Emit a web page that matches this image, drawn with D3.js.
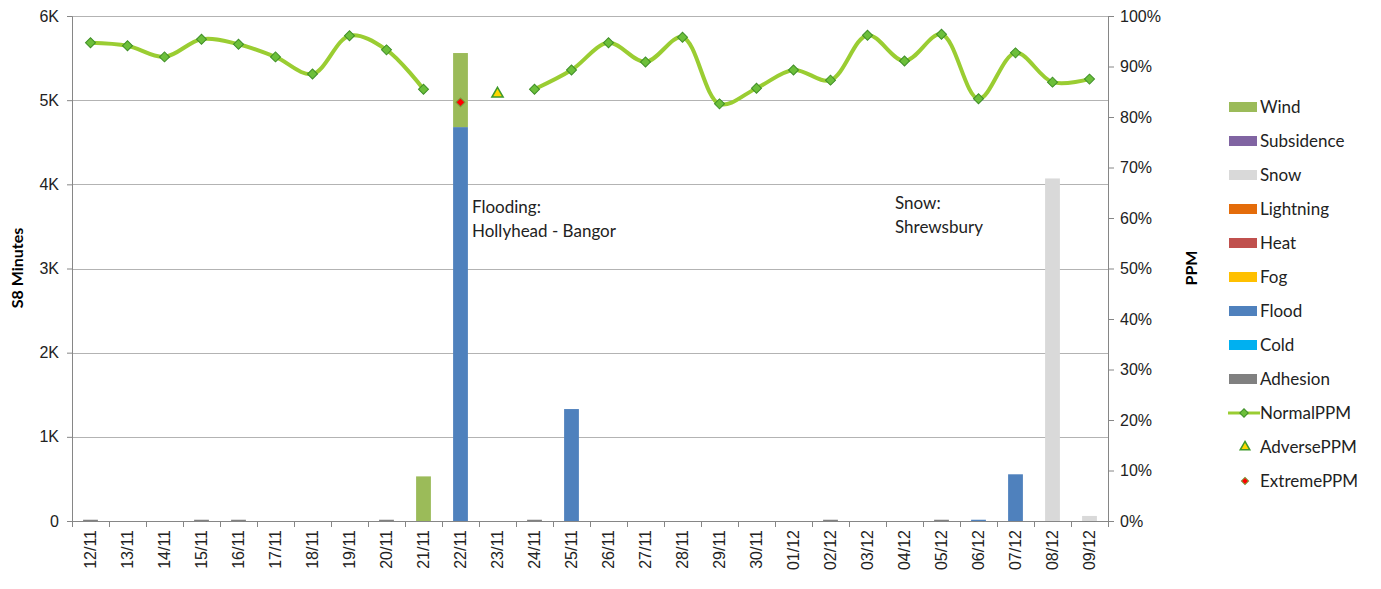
<!DOCTYPE html>
<html>
<head>
<meta charset="utf-8">
<script src="https://cdn.jsdelivr.net/npm/d3@7"></script>
<style>
  body { margin: 0; background: #fff; }
  svg { font-family: Lato, "Open Sans", sans-serif; }
  .grid line { stroke: #b3b3b3; }
  .axis path, .axis line { stroke: #868686; }
  .axis text { fill: #222; font-size: 16px; }
</style>
</head>
<body>
<svg width="1381" height="589"></svg>
<script>
const dates = ['12/11','13/11','14/11','15/11','16/11','17/11','18/11','19/11','20/11','21/11','22/11','23/11','24/11','25/11',
  '26/11','27/11','28/11','29/11','30/11','01/12','02/12','03/12','04/12','05/12','06/12','07/12','08/12','09/12'];

// S8 minutes by cause
const adhesion   = [15,0,0,15,15,0,0,0,15,0,0,0,15,0, 0,0,0,0,0,0,15,0,0,15,0,0,0,0];
const cold       = [0,0,0,0,0,0,0,0,0,0,0,0,0,0, 0,0,0,0,0,0,0,0,0,0,0,0,0,0];
const flood      = [0,0,0,0,0,0,0,0,0,0,4680,0,0,1330, 0,0,0,0,0,0,0,0,0,0,15,555,0,0];
const fog        = [0,0,0,0,0,0,0,0,0,0,0,0,0,0, 0,0,0,0,0,0,0,0,0,0,0,0,0,0];
const heat       = [0,0,0,0,0,0,0,0,0,0,0,0,0,0, 0,0,0,0,0,0,0,0,0,0,0,0,0,0];
const lightning  = [0,0,0,0,0,0,0,0,0,0,0,0,0,0, 0,0,0,0,0,0,0,0,0,0,0,0,0,0];
const snow       = [0,0,0,0,0,0,0,0,0,0,0,0,0,0, 0,0,0,0,0,0,0,0,0,0,0,0,4070,60];
const subsidence = [0,0,0,0,0,0,0,0,0,0,0,0,0,0, 0,0,0,0,0,0,0,0,0,0,0,0,0,0];
const wind       = [0,0,0,0,0,0,0,0,0,530,880,0,0,0, 0,0,0,0,0,0,0,0,0,0,0,0,0,0];

// PPM (%)
const normalPPM  = [94.7,94.1,91.9,95.4,94.4,91.9,88.5,96.1,93.3,85.5,null,null,85.5,89.3,
  94.7,90.9,95.8,82.6,85.7,89.3,87.3,96.2,91.1,96.4,83.6,92.7,86.9,87.5];
const adversePPM  = [null,null,null,null,null,null,null,null,null,null,null,84.6,null,null,
  null,null,null,null,null,null,null,null,null,null,null,null,null,null];
const extremePPM  = [null,null,null,null,null,null,null,null,null,null,82.9,null,null,null,
  null,null,null,null,null,null,null,null,null,null,null,null,null,null];

const causes = ['Adhesion','Cold','Flood','Fog','Heat','Lightning','Snow','Subsidence','Wind'];
const causeValues = {Adhesion: adhesion, Cold: cold, Flood: flood, Fog: fog, Heat: heat,
  Lightning: lightning, Snow: snow, Subsidence: subsidence, Wind: wind};
const causeColors = {Adhesion:'#808080', Cold:'#00b0f0', Flood:'#4f81bd', Fog:'#ffc000', Heat:'#c0504d',
  Lightning:'#e46c0a', Snow:'#d9d9d9', Subsidence:'#8064a2', Wind:'#9bbb59'};

const leftTicks = [0,1000,2000,3000,4000,5000,6000];
const rightTicks = [0,10,20,30,40,50,60,70,80,90,100];

const margin = {left: 72, right: 1108, top: 16, bottom: 521};
const svg = d3.select('svg');

let x = d3.scaleBand().domain(dates).range([margin.left, margin.right]).paddingInner(0.6).paddingOuter(0.3);
let y = d3.scaleLinear().domain([0, 6000]).range([margin.bottom, margin.top]);
let y2 = d3.scaleLinear().domain([0, 100]).range([margin.bottom, margin.top]);
let cx = d => x(d) + x.bandwidth() / 2;

// gridlines
svg.append('g').attr('class', 'grid')
  .selectAll('line').data(leftTicks.slice(1)).enter().append('line')
  .attr('x1', margin.left).attr('x2', margin.right)
  .attr('y1', d => Math.round(y(d)) + 0.5).attr('y2', d => Math.round(y(d)) + 0.5);

// stacked bars
let table = dates.map((d, i) => {
  let row = {date: d};
  causes.forEach(c => row[c] = causeValues[c][i]);
  return row;
});
let stacked = d3.stack().keys(causes)(table);

svg.append('g').selectAll('g').data(stacked).enter().append('g')
  .attr('fill', s => causeColors[s.key])
  .selectAll('rect').data(s => s).enter().append('rect')
  .attr('x', d => x(d.data.date))
  .attr('width', x.bandwidth())
  .attr('y', d => y(d[1]))
  .attr('height', d => y(d[0]) - y(d[1]));

// axes
svg.append('g').attr('class', 'axis')
  .attr('transform', `translate(${margin.left},0)`)
  .call(d3.axisLeft(y).tickValues(leftTicks).tickSize(5).tickPadding(8)
    .tickFormat(d => d === 0 ? '0' : (d / 1000) + 'K'));

svg.append('g').attr('class', 'axis')
  .attr('transform', `translate(${margin.right},0)`)
  .call(d3.axisRight(y2).tickValues(rightTicks).tickSize(6).tickPadding(6)
    .tickFormat(d => d + '%'));

let xAxis = svg.append('g').attr('class', 'axis')
  .attr('transform', `translate(0,${margin.bottom})`)
  .call(d3.axisBottom(x).tickSize(0).tickPadding(0));
xAxis.selectAll('.tick text')
  .attr('transform', 'rotate(-90)')
  .attr('x', -9).attr('y', 0).attr('dy', '0.35em')
  .attr('text-anchor', 'end')
  .style('font-size', '16px');
xAxis.select('.domain').attr('d', `M${margin.left},0.5H${margin.right}`);
xAxis.selectAll('.sep').data(d3.range(dates.length + 1)).enter().append('line')
  .attr('class', 'sep')
  .attr('x1', i => Math.round(margin.left + i * x.step()) + 0.5)
  .attr('x2', i => Math.round(margin.left + i * x.step()) + 0.5)
  .attr('y1', 0).attr('y2', 6);

// PPM line
let line = d3.line()
  .defined(d => d.v != null)
  .x(d => cx(d.date))
  .y(d => y2(d.v))
  .curve(d3.curveCatmullRom.alpha(0.5));
let ppm = dates.map((d, i) => ({date: d, v: normalPPM[i]}));

svg.append('path').datum(ppm)
  .attr('fill', 'none').attr('stroke', '#9acd32').attr('stroke-width', 4)
  .attr('stroke-linejoin', 'round').attr('d', line);

// square diamond, like the spreadsheet marker
let diamond = d3.symbol().type(d3.symbolSquare).size(50);
svg.append('g').selectAll('path').data(ppm.filter(d => d.v != null)).enter().append('path')
  .attr('transform', d => `translate(${cx(d.date)},${y2(d.v)}) rotate(45)`)
  .attr('d', diamond).attr('fill', '#6cbf3a').attr('stroke', '#3e8e27').attr('stroke-width', 1);

svg.append('g').selectAll('path').data(dates.map((d, i) => ({date: d, v: adversePPM[i]})).filter(d => d.v != null))
  .enter().append('path')
  .attr('transform', d => `translate(${cx(d.date)},${y2(d.v)})`)
  .attr('d', d3.symbol().type(d3.symbolTriangle).size(55))
  .attr('fill', '#ffd700').attr('stroke', '#3e9a2a').attr('stroke-width', 1.5);

svg.append('g').selectAll('path').data(dates.map((d, i) => ({date: d, v: extremePPM[i]})).filter(d => d.v != null))
  .enter().append('path')
  .attr('transform', d => `translate(${cx(d.date)},${y2(d.v)}) rotate(45)`)
  .attr('d', d3.symbol().type(d3.symbolSquare).size(40))
  .attr('fill', '#ff0000').attr('stroke', '#7a9a3a').attr('stroke-width', 1);

// annotations
let note = (lines, px, py) => {
  let t = svg.append('text').attr('x', px).attr('y', py).attr('font-size', 17).attr('fill', '#222');
  lines.forEach((s, i) => t.append('tspan').attr('x', px).attr('dy', i ? 24 : 0).text(s));
};
note(['Flooding:', 'Hollyhead - Bangor'], 472, 213);
note(['Snow:', 'Shrewsbury'], 895, 209);

// axis titles
svg.append('text').attr('transform', 'translate(23,268) rotate(-90)')
  .attr('text-anchor', 'middle').attr('font-weight', 'bold').attr('font-size', 16).text('S8 Minutes');
svg.append('text').attr('transform', 'translate(1197,268) rotate(-90)')
  .attr('text-anchor', 'middle').attr('font-weight', 'bold').attr('font-size', 16).text('PPM');

// legend
let legendItems = causes.slice().reverse().map(c => ({name: c, kind: 'bar'}))
  .concat([{name: 'NormalPPM', kind: 'line'}, {name: 'AdversePPM', kind: 'tri'}, {name: 'ExtremePPM', kind: 'red'}]);
let lg = svg.append('g').attr('transform', 'translate(1228,107)');
let item = lg.selectAll('g').data(legendItems).enter().append('g')
  .attr('transform', (d, i) => `translate(0,${i * 34})`);
item.filter(d => d.kind === 'bar').append('rect')
  .attr('x', 1).attr('y', -5).attr('width', 28).attr('height', 10).attr('fill', d => causeColors[d.name]);
item.filter(d => d.kind === 'line').append('line')
  .attr('x1', 0).attr('x2', 32).attr('stroke', '#9acd32').attr('stroke-width', 3);
item.filter(d => d.kind === 'line').append('path')
  .attr('transform', 'translate(16,0) rotate(45)').attr('d', d3.symbol().type(d3.symbolSquare).size(36))
  .attr('fill', '#6cbf3a').attr('stroke', '#3e8e27');
item.filter(d => d.kind === 'tri').append('path')
  .attr('transform', 'translate(17,0)').attr('d', d3.symbol().type(d3.symbolTriangle).size(40))
  .attr('fill', '#ffd700').attr('stroke', '#3e9a2a').attr('stroke-width', 1.5);
item.filter(d => d.kind === 'red').append('path')
  .attr('transform', 'translate(17,0) rotate(45)').attr('d', d3.symbol().type(d3.symbolSquare).size(26))
  .attr('fill', '#ff0000').attr('stroke', '#7a9a3a');
item.append('text').attr('x', 32).attr('dy', '0.35em').attr('font-size', 17).attr('fill', '#222')
  .text(d => d.name);
</script>
</body>
</html>
